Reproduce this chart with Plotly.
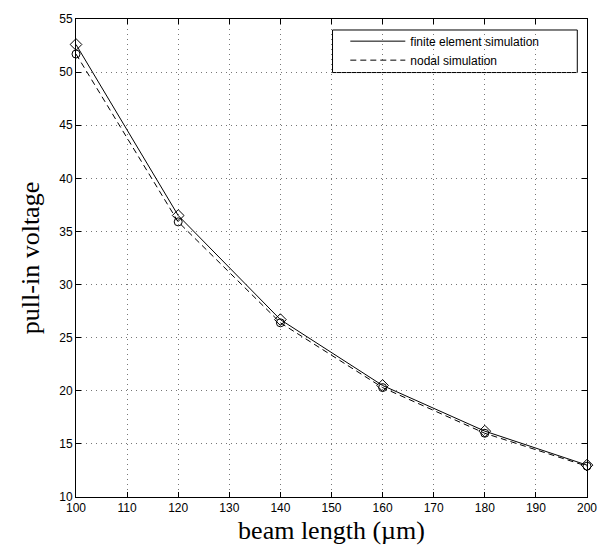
import plotly.graph_objects as go

beam_length = [100, 120, 140, 160, 180, 200]
finite_element = [52.6, 36.5, 26.7, 20.5, 16.2, 13.0]
nodal = [51.7, 35.9, 26.4, 20.3, 16.0, 12.9]

x_ticks = [100, 110, 120, 130, 140, 150, 160, 170, 180, 190, 200]
y_ticks = [10, 15, 20, 25, 30, 35, 40, 45, 50, 55]

fig = go.Figure()
fig.add_trace(go.Scatter(x=beam_length, y=finite_element, mode="lines",
                         line=dict(color="black", width=1),
                         name="finite element simulation"))
fig.add_trace(go.Scatter(x=beam_length, y=nodal, mode="lines",
                         line=dict(color="black", width=1, dash="6px,4px"),
                         name="nodal simulation"))
fig.add_trace(go.Scatter(x=beam_length, y=finite_element, mode="markers",
                         cliponaxis=False,
                         marker=dict(symbol="diamond-open", size=9, color="black",
                                     line=dict(width=1, color="black")),
                         showlegend=False))
fig.add_trace(go.Scatter(x=beam_length, y=nodal, mode="markers",
                         cliponaxis=False,
                         marker=dict(symbol="circle-open", size=8, color="black",
                                     line=dict(width=1, color="black")),
                         showlegend=False))

axis_common = dict(
    showline=True, linecolor="black", linewidth=1, mirror="ticks",
    ticks="inside", ticklen=5, tickcolor="black",
    showgrid=True, gridcolor="#777777", gridwidth=1, griddash="1px,4px",
    zeroline=False,
    tickfont=dict(family="Liberation Sans, Arial", size=12, color="black"),
)

fig.update_xaxes(range=[100, 200], tickvals=x_ticks, ticktext=[str(v) for v in x_ticks],
                 title=dict(text="beam length (µm)",
                            font=dict(family="Liberation Serif, Times New Roman", size=26, color="black"),
                            standoff=6),
                 **axis_common)
fig.update_yaxes(range=[10, 55], tickvals=y_ticks, ticktext=[str(v) for v in y_ticks],
                 title=dict(text="pull-in voltage",
                            font=dict(family="Liberation Serif, Times New Roman", size=26, color="black"),
                            standoff=12),
                 **axis_common)

fig.add_shape(type="rect", xref="paper", yref="paper", x0=0.502, x1=0.981, y0=0.888, y1=0.977,
              line=dict(color="black", width=1), fillcolor="white", layer="below")

fig.update_layout(
    width=609, height=556,
    margin=dict(l=76, r=17, t=13, b=59),
    paper_bgcolor="white", plot_bgcolor="white",
    legend=dict(x=0.527, y=0.984, xanchor="left", yanchor="top",
                bgcolor="rgba(0,0,0,0)", borderwidth=0,
                font=dict(family="Liberation Sans, Arial", size=12, color="black"),
                itemwidth=55, tracegroupgap=0),
    showlegend=True,
)

fig.write_html("out.html",
               config={"displayModeBar": False},
               post_script="document.body.style.margin='0';document.body.style.overflow='hidden';")
